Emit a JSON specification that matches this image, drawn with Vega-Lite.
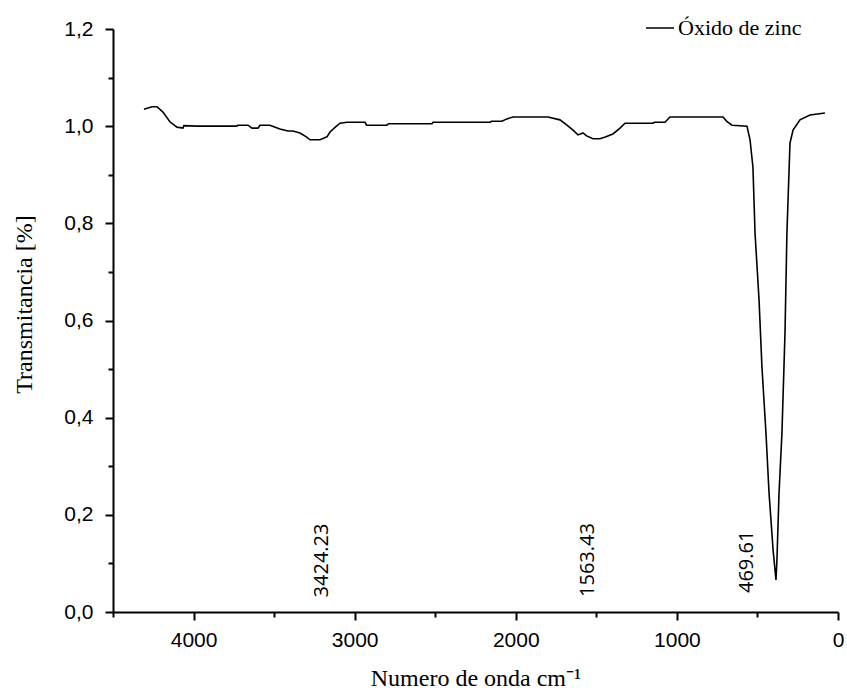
{
  "$schema": "https://vega.github.io/schema/vega-lite/v6.json",
  "width": 725,
  "height": 583,
  "autosize": {"type": "none"},
  "padding": {"left": 113, "top": 29, "right": 9, "bottom": 82},
  "background": "white",
  "config": {"view": {"stroke": null}},
  "resolve": {"axis": {"x": "independent", "y": "independent"}},
  "layer": [
    {
      "data": {"values": [
        {"wn": 4308, "T": 1.035}, {"wn": 4258, "T": 1.040}, {"wn": 4227, "T": 1.040}, {"wn": 4190, "T": 1.029},
        {"wn": 4147, "T": 1.009}, {"wn": 4103, "T": 0.998}, {"wn": 4066, "T": 0.996}, {"wn": 4060, "T": 1.001},
        {"wn": 3979, "T": 1.000}, {"wn": 3731, "T": 1.000}, {"wn": 3725, "T": 1.002}, {"wn": 3662, "T": 1.002},
        {"wn": 3637, "T": 0.996}, {"wn": 3600, "T": 0.996}, {"wn": 3588, "T": 1.002}, {"wn": 3526, "T": 1.002},
        {"wn": 3464, "T": 0.994}, {"wn": 3414, "T": 0.990}, {"wn": 3383, "T": 0.990}, {"wn": 3340, "T": 0.986},
        {"wn": 3300, "T": 0.978}, {"wn": 3277, "T": 0.972}, {"wn": 3215, "T": 0.972}, {"wn": 3172, "T": 0.978},
        {"wn": 3153, "T": 0.988}, {"wn": 3120, "T": 0.998}, {"wn": 3091, "T": 1.006}, {"wn": 3048, "T": 1.008},
        {"wn": 2936, "T": 1.008}, {"wn": 2926, "T": 1.002}, {"wn": 2800, "T": 1.002}, {"wn": 2790, "T": 1.005},
        {"wn": 2520, "T": 1.005}, {"wn": 2514, "T": 1.008}, {"wn": 2160, "T": 1.008}, {"wn": 2150, "T": 1.010},
        {"wn": 2086, "T": 1.010}, {"wn": 2055, "T": 1.015}, {"wn": 2017, "T": 1.019}, {"wn": 1800, "T": 1.019},
        {"wn": 1726, "T": 1.013}, {"wn": 1682, "T": 1.002}, {"wn": 1645, "T": 0.992}, {"wn": 1614, "T": 0.982},
        {"wn": 1583, "T": 0.986}, {"wn": 1560, "T": 0.980}, {"wn": 1521, "T": 0.974}, {"wn": 1477, "T": 0.974},
        {"wn": 1440, "T": 0.978}, {"wn": 1397, "T": 0.984}, {"wn": 1353, "T": 0.996}, {"wn": 1322, "T": 1.006},
        {"wn": 1148, "T": 1.006}, {"wn": 1140, "T": 1.008}, {"wn": 1074, "T": 1.008}, {"wn": 1043, "T": 1.019},
        {"wn": 714, "T": 1.019}, {"wn": 690, "T": 1.010}, {"wn": 658, "T": 1.002}, {"wn": 565, "T": 1.000},
        {"wn": 546, "T": 0.972}, {"wn": 528, "T": 0.916}, {"wn": 515, "T": 0.780}, {"wn": 490, "T": 0.642},
        {"wn": 472, "T": 0.504}, {"wn": 447, "T": 0.368}, {"wn": 428, "T": 0.245}, {"wn": 403, "T": 0.128},
        {"wn": 392, "T": 0.090}, {"wn": 385, "T": 0.066}, {"wn": 379, "T": 0.107}, {"wn": 366, "T": 0.245},
        {"wn": 348, "T": 0.368}, {"wn": 329, "T": 0.574}, {"wn": 317, "T": 0.780}, {"wn": 298, "T": 0.965},
        {"wn": 279, "T": 0.992}, {"wn": 236, "T": 1.013}, {"wn": 174, "T": 1.023}, {"wn": 81, "T": 1.027}
      ]},
      "mark": {"type": "line", "strokeWidth": 1.6, "interpolate": "linear"},
      "encoding": {
        "x": {
          "field": "wn", "type": "quantitative",
          "scale": {"domain": [0, 4500], "reverse": true, "nice": false, "zero": false},
          "axis": {
            "orient": "bottom",
            "values": [0, 1000, 2000, 3000, 4000],
            "format": "d",
            "ticks": true, "tickSize": 8, "tickWidth": 2, "tickColor": "black",
            "grid": false,
            "domainColor": "black", "domainWidth": 2,
            "labelFont": "Liberation Sans", "labelFontSize": 21, "labelColor": "black",
            "labelPadding": 9, "labelFlush": false,
            "title": "Numero de onda cm⁻¹",
            "titleFont": "Liberation Serif", "titleFontSize": 24, "titleFontWeight": "normal",
            "titleColor": "black", "titlePadding": 16
          }
        },
        "y": {
          "field": "T", "type": "quantitative",
          "scale": {"domain": [0, 1.2], "nice": false},
          "axis": {
            "orient": "left",
            "values": [0, 0.2, 0.4, 0.6, 0.8, 1.0, 1.2],
            "labelExpr": "replace(format(datum.value, '.1f'), '.', ',')",
            "ticks": true, "tickSize": 8, "tickWidth": 2, "tickColor": "black",
            "grid": false,
            "domainColor": "black", "domainWidth": 2,
            "labelFont": "Liberation Sans", "labelFontSize": 21, "labelColor": "black",
            "labelPadding": 12, "labelFlush": false,
            "title": "Transmitancia [%]",
            "titleFont": "Liberation Serif", "titleFontSize": 24, "titleFontWeight": "normal",
            "titleColor": "black", "titlePadding": 27, "titleY": 275
          }
        },
        "stroke": {
          "datum": "Óxido de zinc",
          "scale": {"range": ["black"]},
          "legend": {
            "title": null, "orient": "none", "legendX": 532, "legendY": -16,
            "symbolType": "stroke", "symbolSize": 784, "symbolStrokeWidth": 1.5,
            "labelFont": "Liberation Serif", "labelFontSize": 22, "labelColor": "black",
            "labelOffset": 3, "padding": 0
          }
        }
      }
    },
    {
      "data": {"values": [
        {"wn": 3203, "T": 0.030, "label": "3424.23"},
        {"wn": 1550, "T": 0.031, "label": "1563.43"},
        {"wn": 565, "T": 0.039, "label": "469.61"}
      ]},
      "mark": {"type": "text", "angle": 270, "align": "left", "baseline": "middle", "font": "Open Sans", "fontSize": 20, "color": "black"},
      "encoding": {
        "x": {
          "field": "wn", "type": "quantitative",
          "axis": {
            "orient": "bottom",
            "values": [500, 1500, 2500, 3500, 4500],
            "labels": false, "domain": false, "grid": false, "title": null, "ticks": true,
            "tickSize": 5, "tickColor": "black", "tickWidth": 2
          }
        },
        "y": {
          "field": "T", "type": "quantitative",
          "axis": {
            "orient": "left",
            "values": [0.1, 0.3, 0.5, 0.7, 0.9, 1.1],
            "labels": false, "domain": false, "grid": false, "title": null, "ticks": true,
            "tickSize": 5, "tickColor": "black", "tickWidth": 2
          }
        },
        "text": {"field": "label"}
      }
    }
  ]
}
